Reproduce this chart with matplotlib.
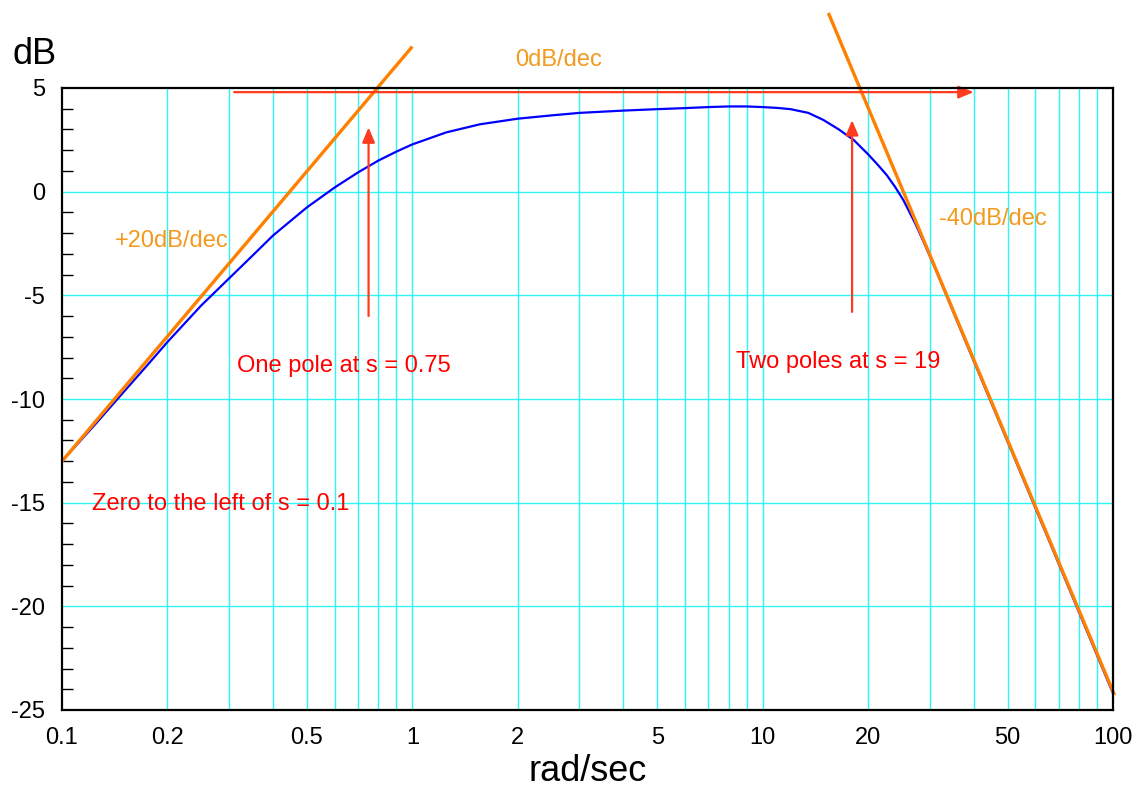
import numpy as np
import matplotlib
matplotlib.use("Agg")
import matplotlib.pyplot as plt
from matplotlib.ticker import FixedLocator, NullFormatter, MultipleLocator

plt.rcParams['font.family'] = ['Liberation Sans', 'DejaVu Sans']
plt.rcParams['axes.unicode_minus'] = False

# magnitude curve (rad/sec, dB)
w = [0.1, 0.125, 0.15, 0.175, 0.2, 0.25, 0.3, 0.35, 0.4, 0.45, 0.5, 0.6,
     0.7, 0.8, 0.9, 1.0, 1.25, 1.56, 2.0, 2.5, 3.0, 4.0, 5.0, 6.0,
     7.0, 8.0, 9.0, 10.0, 11.0, 12.0, 13.5, 14.9, 16.5, 18.2, 20.0, 21.3,
     22.6, 23.9, 25.2, 27.2, 28.8, 31.4, 34.3, 37.4, 40.0, 50.0, 70.0, 100.0]
mag = [-13.0, -11.18, -9.66, -8.38, -7.25, -5.48, -4.18, -3.08, -2.12, -1.4, -0.76, 0.2,
       0.93, 1.5, 1.93, 2.28, 2.86, 3.25, 3.52, 3.68, 3.8, 3.91, 3.98, 4.03,
       4.08, 4.11, 4.11, 4.08, 4.04, 3.98, 3.8, 3.46, 3.0, 2.49, 1.8, 1.3,
       0.8, 0.22, -0.4, -1.5, -2.42, -3.88, -5.44, -6.97, -8.15, -12.05, -17.95, -24.2]

# asymptotes
asym_up_x = [0.1, 1.0]
asym_up_y = [-13.0, 7.0]
asym_dn_x = [15.4, 101.0]
asym_dn_y = [8.62, -24.28]

# red arrows: (x0, y0, x1, y1)
arrow_flat = (0.31, 4.8, 40.0, 4.8)
arrow_pole1 = (0.75, -6.0, 0.75, 3.1)
arrow_pole2 = (18.0, -5.8, 18.0, 3.45)

xticks = [0.1, 0.2, 0.5, 1, 2, 5, 10, 20, 50, 100]
xtick_labels = ["0.1", "0.2", "0.5", "1", "2", "5", "10", "20", "50", "100"]
yticks = [5, 0, -5, -10, -15, -20, -25]

cyan = "#2ef6f6"
orange = "#ff8000"
orange_txt = "#f39a1e"
red = "#ff3b1f"

fig = plt.figure(figsize=(11.41, 7.89), dpi=100)
ax = fig.add_axes([62/1141, 1 - 710/789, (1113 - 62)/1141, (710 - 88)/789])

ax.set_xscale("log")
ax.set_xlim(0.1, 100)
ax.set_ylim(-25, 5)

# grid
vgrid = [m * d for d in (0.1, 1, 10) for m in range(1, 10)] + [100]
for v in vgrid[1:-1]:
    ax.axvline(v, color=cyan, lw=1.0, zorder=1)
for h in yticks[1:-1]:
    ax.axhline(h, color=cyan, lw=1.0, zorder=1)

ax.plot(w, mag, color="#0000ff", lw=1.6, zorder=3)
ax.plot(asym_up_x, asym_up_y, color=orange, lw=2.4, zorder=4, clip_on=False,
        solid_capstyle="butt")
ax.plot(asym_dn_x, asym_dn_y, color=orange, lw=2.4, zorder=4, clip_on=False,
        solid_capstyle="butt")

for (x0, y0, x1, y1) in (arrow_flat, arrow_pole1, arrow_pole2):
    ax.annotate("", xy=(x1, y1), xytext=(x0, y0),
                arrowprops=dict(arrowstyle="-|>,head_length=0.9,head_width=0.38",
                                color=red, lw=1.6, shrinkA=0, shrinkB=0),
                zorder=5)

# ticks
ax.xaxis.set_major_locator(FixedLocator(xticks))
ax.set_xticklabels(xtick_labels)
ax.xaxis.set_minor_formatter(NullFormatter())
ax.tick_params(axis="x", which="both", length=0, pad=12, labelsize=17)
ax.yaxis.set_major_locator(FixedLocator(yticks))
ax.yaxis.set_minor_locator(MultipleLocator(1))
ax.tick_params(axis="y", which="major", length=0, pad=12, labelsize=17)
ax.tick_params(axis="y", which="minor", direction="in", length=8, width=1.0)

for s in ax.spines.values():
    s.set_linewidth(1.6)
    s.set_zorder(6)

ax.set_xlabel("rad/sec", fontsize=26, labelpad=4)
fig.text(12/1141, 1 - 54/789, "dB", fontsize=26, va="center", ha="left")

# annotations
ax.text(2.61, 6.35, "0dB/dec", color=orange_txt, fontsize=17, ha="center", va="center")
ax.text(0.1417, -2.38, "+20dB/dec", color=orange_txt, fontsize=17, ha="left", va="center")
ax.text(31.9, -1.32, "-40dB/dec", color=orange_txt, fontsize=17, ha="left", va="center")
ax.text(0.316, -8.41, "One pole at s = 0.75", color="#ff0000", fontsize=17, ha="left", va="center")
ax.text(8.40, -8.22, "Two poles at s = 19", color="#ff0000", fontsize=17, ha="left", va="center")
ax.text(0.1218, -15.07, "Zero to the left of s = 0.1", color="#ff0000", fontsize=17,
        ha="left", va="center")

fig.savefig("out.png", dpi=100)
